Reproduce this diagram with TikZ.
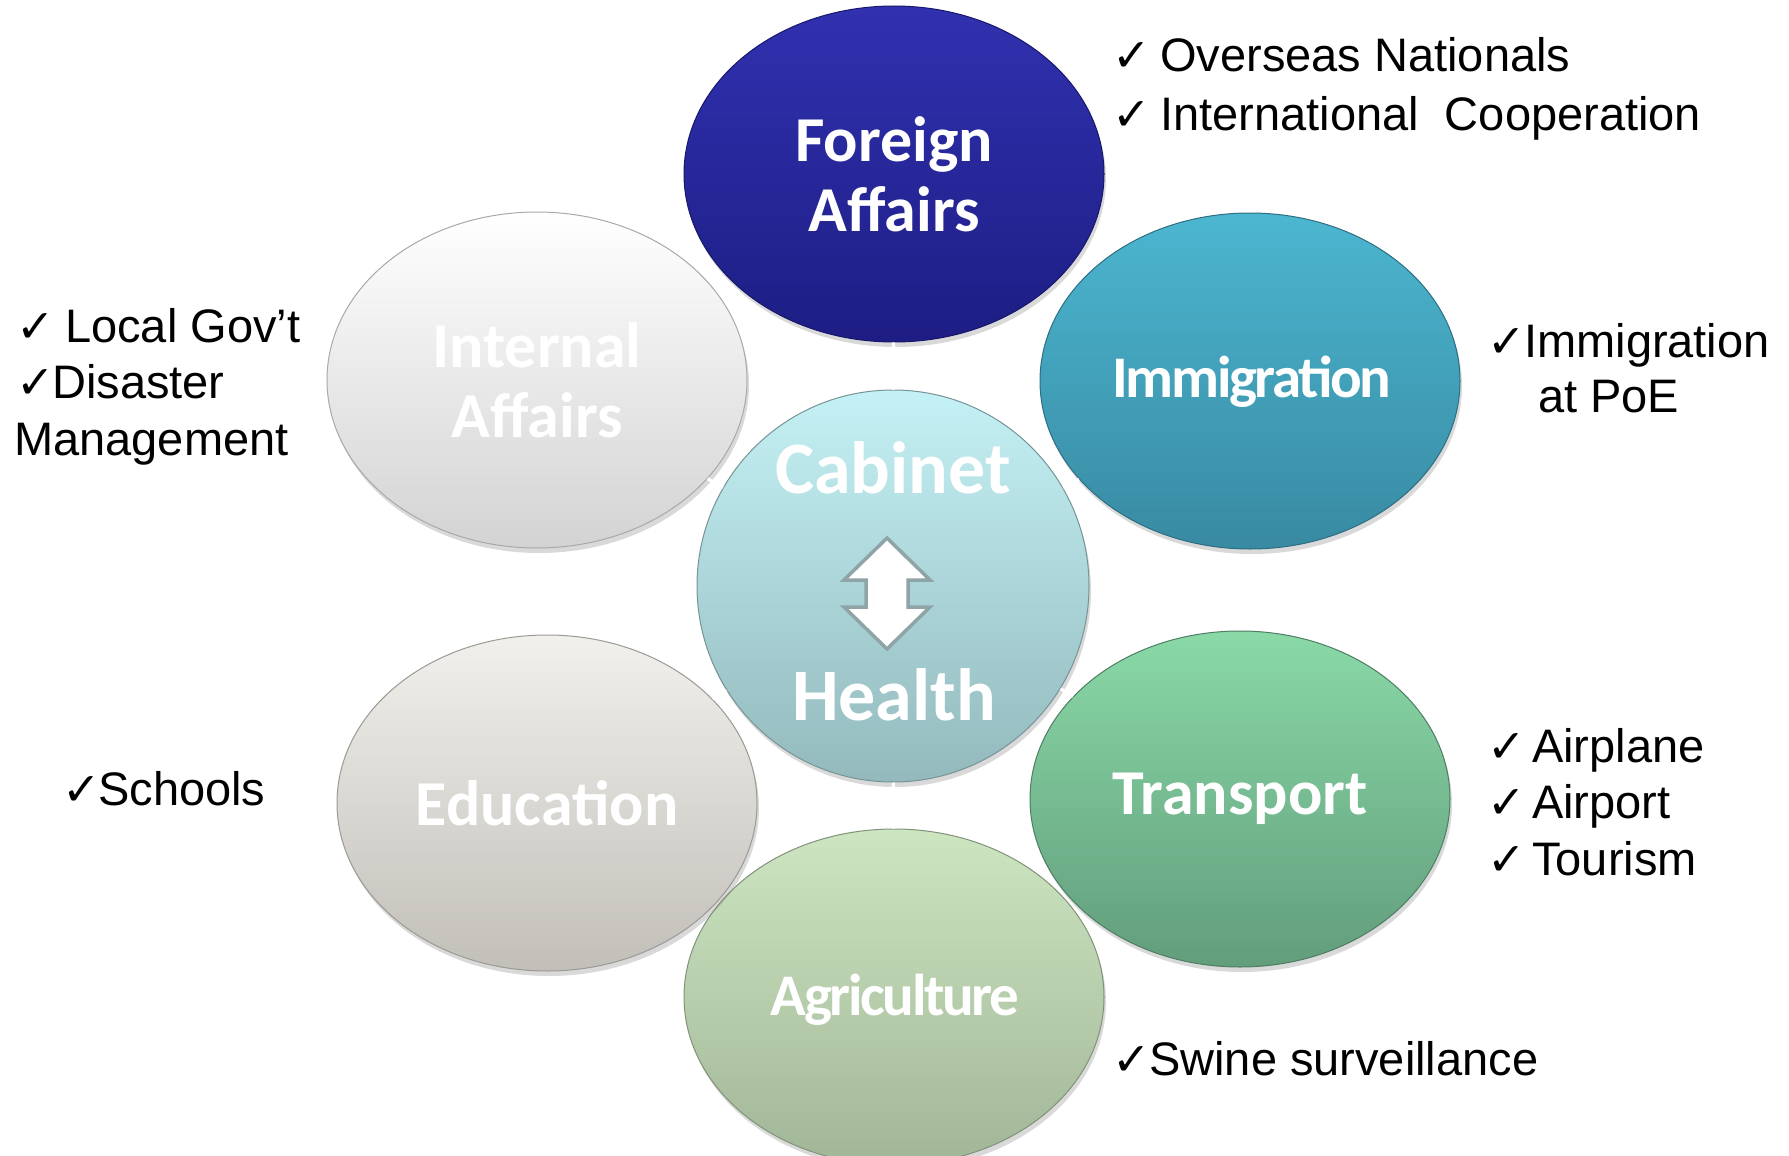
\documentclass[tikz,border=0pt]{standalone}
\usepackage{fontspec}
\setmainfont{Liberation Sans}
\newfontfamily\chkfont{DejaVu Sans}
\newfontfamily\lblfont{Carlito}
\newfontfamily\tightfont{Carlito}[LetterSpace=-4]
\usetikzlibrary{shapes.geometric,shadows}
\definecolor{faT}{HTML}{3131B0}
\definecolor{faB}{HTML}{1D1D84}
\definecolor{imT}{HTML}{4CB6D0}
\definecolor{imB}{HTML}{388AA2}
\definecolor{cbT}{HTML}{C4F1F5}
\definecolor{cbB}{HTML}{93B9BC}
\definecolor{trT}{HTML}{8AD9A7}
\definecolor{trB}{HTML}{629D7C}
\definecolor{agT}{HTML}{CDE5C1}
\definecolor{agB}{HTML}{A1B697}
\definecolor{edT}{HTML}{F2F0EC}
\definecolor{edB}{HTML}{C2BFB9}
\definecolor{iaT}{HTML}{FFFFFF}
\definecolor{iaB}{HTML}{D3D3D3}
\definecolor{arrowgray}{HTML}{8FA4A7}
\newcommand{\chk}[1]{\makebox[#1][l]{\chkfont\fontsize{46}{46}\selectfont ✓}}
\begin{document}
\begin{tikzpicture}[x=1pt,y=-1pt,
  bubble/.style n args={2}{ellipse, minimum width=420pt, minimum height=336pt, inner sep=0pt,
    top color=#1, bottom color=#2, draw=#2!80!black, line width=1pt,
    drop shadow={shadow xshift=2pt, shadow yshift=-5pt, opacity=0.3},
    text=white, align=center},
  lbl/.style={font=\lblfont\bfseries\fontsize{64}{70}\selectfont},
  note/.style={anchor=base west, inner sep=0pt, text=black},
  n47/.style={note, font=\fontsize{47}{47}\selectfont},
  link/.style={draw=white, line width=3pt}]
\useasboundingbox (0,0) rectangle (1789,1156);

% outer bubbles
\node[bubble={faT}{faB}, lbl] (fa) at (894,174) {Foreign\\Affairs};
\node[bubble={imT}{imB}] (im) at (1250,381) {};
\node[font=\tightfont\bfseries\fontsize{59}{59}\selectfont, text=white, anchor=base] (imt) at (1252,397) {Immigration};
\node[bubble={trT}{trB}, lbl] (tr) at (1240,799) {Transport};
\node[bubble={agT}{agB}] (ag) at (894,997) {};
\node[font=\tightfont\bfseries\fontsize{59}{59}\selectfont, text=white, anchor=base] (agt) at (895,1015) {Agriculture};
\node[bubble={edT}{edB}, lbl] (ed) at (547,803) {Education};
\node[bubble={iaT}{iaB}, lbl] (ia) at (537,380) {Internal\\Affairs};

% centre
\node[circle, minimum size=392pt, inner sep=0pt, top color=cbT, bottom color=cbB,
  draw=cbB!80!black, line width=1pt,
  drop shadow={shadow xshift=2pt, shadow yshift=-5pt, opacity=0.3}] (ce) at (893,586) {};
\node[font=\lblfont\bfseries\fontsize{74}{74}\selectfont, text=white, anchor=base] (cab) at (893,493) {Cabinet};
\node[font=\lblfont\bfseries\fontsize{74}{74}\selectfont, text=white, anchor=base] (hea) at (894,720) {Health};
\draw[fill=white, draw=arrowgray, line width=3.5pt, line join=miter]
  (887,538) -- (930,580) -- (908,580) -- (908,607) -- (930,607) -- (887,649)
  -- (844,607) -- (866,607) -- (866,580) -- (844,580) -- cycle;

% faint white links
\foreach \t in {fa,im,tr,ag,ed,ia} \draw[link] (ce) -- (\t);

% notes
\node[n47] (n1) at (1112,72) {\chk{48pt}Overseas Nationals};
\node[n47] (n2) at (1112,130) {\chk{48pt}International~~Cooperation};
\node[n47] (n3) at (1487,357) {\chk{37pt}Immigration};
\node[n47] (n4) at (1538,412) {at PoE};
\node[n47] (n5) at (1487,762) {\chk{45pt}Airplane};
\node[n47] (n6) at (1487,818) {\chk{45pt}Airport};
\node[n47] (n7) at (1487,875) {\chk{45pt}Tourism};
\node[n47] (n8) at (1112,1075) {\chk{37pt}Swine surveillance};
\node[n47] (n9) at (62,805) {\chk{36pt}Schools};
\node[n47] (n10) at (16,342) {\chk{49pt}Local Gov’t};
\node[n47] (n11) at (16,398) {\chk{36pt}Disaster};
\node[n47] (n12) at (14,455) {Management};
\end{tikzpicture}
\end{document}
